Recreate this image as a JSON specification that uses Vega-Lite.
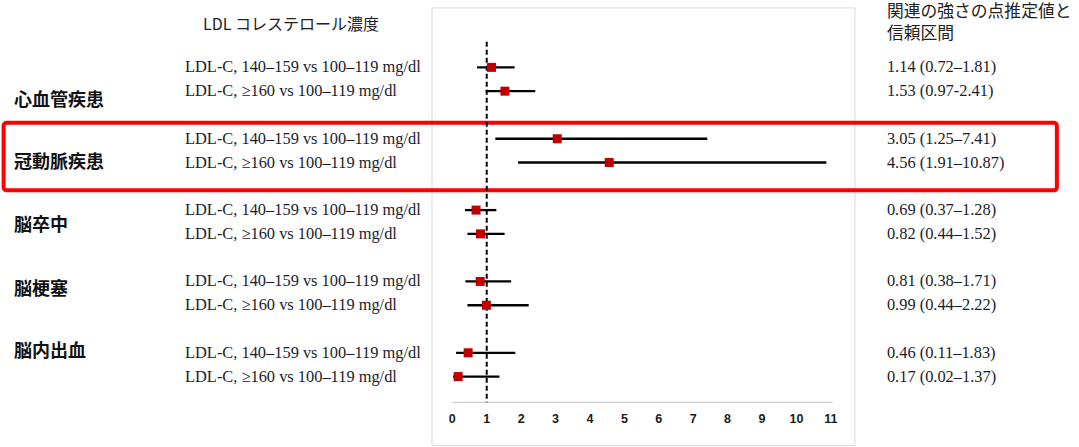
{
  "$schema": "https://vega.github.io/schema/vega-lite/v6.json",
  "width": 1079,
  "height": 447,
  "autosize": {"type": "fit", "contains": "padding"},
  "padding": 0,
  "background": "white",
  "config": {"view": {"stroke": null}},
  "datasets": {
    "forest": [
      {"group": "心血管疾患", "label": "LDL-C, 140–159 vs 100–119 mg/dl", "est": 1.14, "lo": 0.72, "hi": 1.81, "ci": "1.14 (0.72–1.81)", "row": 0},
      {"group": "心血管疾患", "label": "LDL-C, ≥160 vs 100–119 mg/dl", "est": 1.53, "lo": 0.97, "hi": 2.41, "ci": "1.53 (0.97-2.41)", "row": 1},
      {"group": "冠動脈疾患", "label": "LDL-C, 140–159 vs 100–119 mg/dl", "est": 3.05, "lo": 1.25, "hi": 7.41, "ci": "3.05 (1.25–7.41)", "row": 3},
      {"group": "冠動脈疾患", "label": "LDL-C, ≥160 vs 100–119 mg/dl", "est": 4.56, "lo": 1.91, "hi": 10.87, "ci": "4.56 (1.91–10.87)", "row": 4},
      {"group": "脳卒中", "label": "LDL-C, 140–159 vs 100–119 mg/dl", "est": 0.69, "lo": 0.37, "hi": 1.28, "ci": "0.69 (0.37–1.28)", "row": 6},
      {"group": "脳卒中", "label": "LDL-C, ≥160 vs 100–119 mg/dl", "est": 0.82, "lo": 0.44, "hi": 1.52, "ci": "0.82 (0.44–1.52)", "row": 7},
      {"group": "脳梗塞", "label": "LDL-C, 140–159 vs 100–119 mg/dl", "est": 0.81, "lo": 0.38, "hi": 1.71, "ci": "0.81 (0.38–1.71)", "row": 9},
      {"group": "脳梗塞", "label": "LDL-C, ≥160 vs 100–119 mg/dl", "est": 0.99, "lo": 0.44, "hi": 2.22, "ci": "0.99 (0.44–2.22)", "row": 10},
      {"group": "脳内出血", "label": "LDL-C, 140–159 vs 100–119 mg/dl", "est": 0.46, "lo": 0.11, "hi": 1.83, "ci": "0.46 (0.11–1.83)", "row": 12},
      {"group": "脳内出血", "label": "LDL-C, ≥160 vs 100–119 mg/dl", "est": 0.17, "lo": 0.02, "hi": 1.37, "ci": "0.17 (0.02–1.37)", "row": 13}
    ],
    "groups": [
      {"group": "心血管疾患", "row": 1.4},
      {"group": "冠動脈疾患", "row": 4.04},
      {"group": "脳卒中", "row": 6.67},
      {"group": "脳梗塞", "row": 9.38},
      {"group": "脳内出血", "row": 11.96}
    ],
    "ticks": [
      {"t": 0}, {"t": 1}, {"t": 2}, {"t": 3}, {"t": 4}, {"t": 5},
      {"t": 6}, {"t": 7}, {"t": 8}, {"t": 9}, {"t": 10}, {"t": 11}
    ],
    "one": [{"k": 1}]
  },
  "layer": [
    {
      "data": {"name": "one"},
      "mark": {"type": "rect", "filled": false, "stroke": "#d9d9d9", "strokeWidth": 1},
      "encoding": {
        "x": {"datum": -0.59, "type": "quantitative", "scale": {"domain": [-13.145, 18.213], "nice": false, "zero": false}, "axis": null},
        "x2": {"datum": 11.7},
        "y": {"datum": -2.5, "type": "quantitative", "scale": {"domain": [-2.833, 15.792], "reverse": true, "nice": false, "zero": false}, "axis": null},
        "y2": {"datum": 15.9}
      }
    },
    {
      "data": {"name": "one"},
      "mark": {"type": "rect", "filled": false, "stroke": "#ff0000", "strokeWidth": 4, "cornerRadius": 3},
      "encoding": {
        "x": {"datum": -13.04, "type": "quantitative", "scale": {"domain": [-13.145, 18.213], "nice": false, "zero": false}, "axis": null},
        "x2": {"datum": 17.57},
        "y": {"datum": 2.33, "type": "quantitative", "scale": {"domain": [-2.833, 15.792], "reverse": true, "nice": false, "zero": false}, "axis": null},
        "y2": {"datum": 5.17}
      }
    },
    {
      "data": {"name": "one"},
      "mark": {"type": "rule", "stroke": "#bfbfbf", "strokeWidth": 1},
      "encoding": {
        "x": {"datum": 0, "type": "quantitative", "scale": {"domain": [-13.145, 18.213], "nice": false, "zero": false}, "axis": null},
        "x2": {"datum": 11.05},
        "y": {"datum": 14.08, "type": "quantitative", "scale": {"domain": [-2.833, 15.792], "reverse": true, "nice": false, "zero": false}, "axis": null}
      }
    },
    {
      "data": {"name": "ticks"},
      "mark": {"type": "text", "font": "Liberation Sans", "fontWeight": "bold", "fontSize": 12.5, "color": "#1a1a1a", "baseline": "middle", "align": "center"},
      "encoding": {
        "x": {"field": "t", "type": "quantitative", "scale": {"domain": [-13.145, 18.213], "nice": false, "zero": false}, "axis": null},
        "y": {"datum": 14.79, "type": "quantitative", "scale": {"domain": [-2.833, 15.792], "reverse": true, "nice": false, "zero": false}, "axis": null},
        "text": {"field": "t", "type": "quantitative"}
      }
    },
    {
      "data": {"name": "one"},
      "mark": {"type": "rule", "stroke": "#000000", "strokeWidth": 2, "strokeDash": [5, 3]},
      "encoding": {
        "x": {"datum": 1, "type": "quantitative", "scale": {"domain": [-13.145, 18.213], "nice": false, "zero": false}, "axis": null},
        "y": {"datum": -1.08, "type": "quantitative", "scale": {"domain": [-2.833, 15.792], "reverse": true, "nice": false, "zero": false}, "axis": null},
        "y2": {"datum": 14.08}
      }
    },
    {
      "data": {"name": "forest"},
      "mark": {"type": "rule", "stroke": "#000000", "strokeWidth": 2.3},
      "encoding": {
        "x": {"field": "lo", "type": "quantitative", "scale": {"domain": [-13.145, 18.213], "nice": false, "zero": false}, "axis": null},
        "x2": {"field": "hi"},
        "y": {"field": "row", "type": "quantitative", "scale": {"domain": [-2.833, 15.792], "reverse": true, "nice": false, "zero": false}, "axis": null}
      }
    },
    {
      "data": {"name": "forest"},
      "mark": {"type": "point", "shape": "square", "filled": true, "size": 81, "color": "#c00000", "opacity": 1},
      "encoding": {
        "x": {"field": "est", "type": "quantitative", "scale": {"domain": [-13.145, 18.213], "nice": false, "zero": false}, "axis": null},
        "y": {"field": "row", "type": "quantitative", "scale": {"domain": [-2.833, 15.792], "reverse": true, "nice": false, "zero": false}, "axis": null}
      }
    },
    {
      "data": {"name": "forest"},
      "mark": {"type": "text", "font": "Liberation Serif", "fontSize": 16.4, "color": "#1c1c2c", "align": "left", "baseline": "middle"},
      "encoding": {
        "x": {"datum": -7.768, "type": "quantitative", "scale": {"domain": [-13.145, 18.213], "nice": false, "zero": false}, "axis": null},
        "y": {"field": "row", "type": "quantitative", "scale": {"domain": [-2.833, 15.792], "reverse": true, "nice": false, "zero": false}, "axis": null},
        "text": {"field": "label", "type": "nominal"}
      }
    },
    {
      "data": {"name": "forest"},
      "mark": {"type": "text", "font": "Liberation Serif", "fontSize": 16.4, "color": "#1c1c2c", "align": "left", "baseline": "middle"},
      "encoding": {
        "x": {"datum": 12.63, "type": "quantitative", "scale": {"domain": [-13.145, 18.213], "nice": false, "zero": false}, "axis": null},
        "y": {"field": "row", "type": "quantitative", "scale": {"domain": [-2.833, 15.792], "reverse": true, "nice": false, "zero": false}, "axis": null},
        "text": {"field": "ci", "type": "nominal"}
      }
    },
    {
      "data": {"name": "groups"},
      "mark": {"type": "text", "font": "Noto Sans CJK JP", "fontWeight": "bold", "fontSize": 18, "color": "#111111", "align": "left", "baseline": "middle"},
      "encoding": {
        "x": {"datum": -12.74, "type": "quantitative", "scale": {"domain": [-13.145, 18.213], "nice": false, "zero": false}, "axis": null},
        "y": {"field": "row", "type": "quantitative", "scale": {"domain": [-2.833, 15.792], "reverse": true, "nice": false, "zero": false}, "axis": null},
        "text": {"field": "group", "type": "nominal"}
      }
    },
    {
      "data": {"name": "one"},
      "mark": {"type": "text", "text": "LDL コレステロール濃度", "font": "Noto Sans CJK JP", "fontSize": 16, "color": "#222222", "align": "left", "baseline": "middle"},
      "encoding": {
        "x": {"datum": -7.245, "type": "quantitative", "scale": {"domain": [-13.145, 18.213], "nice": false, "zero": false}, "axis": null},
        "y": {"datum": -1.79, "type": "quantitative", "scale": {"domain": [-2.833, 15.792], "reverse": true, "nice": false, "zero": false}, "axis": null}
      }
    },
    {
      "data": {"name": "one"},
      "mark": {"type": "text", "text": "関連の強さの点推定値と", "font": "Noto Sans CJK JP", "fontSize": 16.8, "color": "#222222", "align": "left", "baseline": "middle"},
      "encoding": {
        "x": {"datum": 12.63, "type": "quantitative", "scale": {"domain": [-13.145, 18.213], "nice": false, "zero": false}, "axis": null},
        "y": {"datum": -2.33, "type": "quantitative", "scale": {"domain": [-2.833, 15.792], "reverse": true, "nice": false, "zero": false}, "axis": null}
      }
    },
    {
      "data": {"name": "one"},
      "mark": {"type": "text", "text": "信頼区間", "font": "Noto Sans CJK JP", "fontSize": 16.8, "color": "#222222", "align": "left", "baseline": "middle"},
      "encoding": {
        "x": {"datum": 12.63, "type": "quantitative", "scale": {"domain": [-13.145, 18.213], "nice": false, "zero": false}, "axis": null},
        "y": {"datum": -1.4, "type": "quantitative", "scale": {"domain": [-2.833, 15.792], "reverse": true, "nice": false, "zero": false}, "axis": null}
      }
    }
  ]
}
